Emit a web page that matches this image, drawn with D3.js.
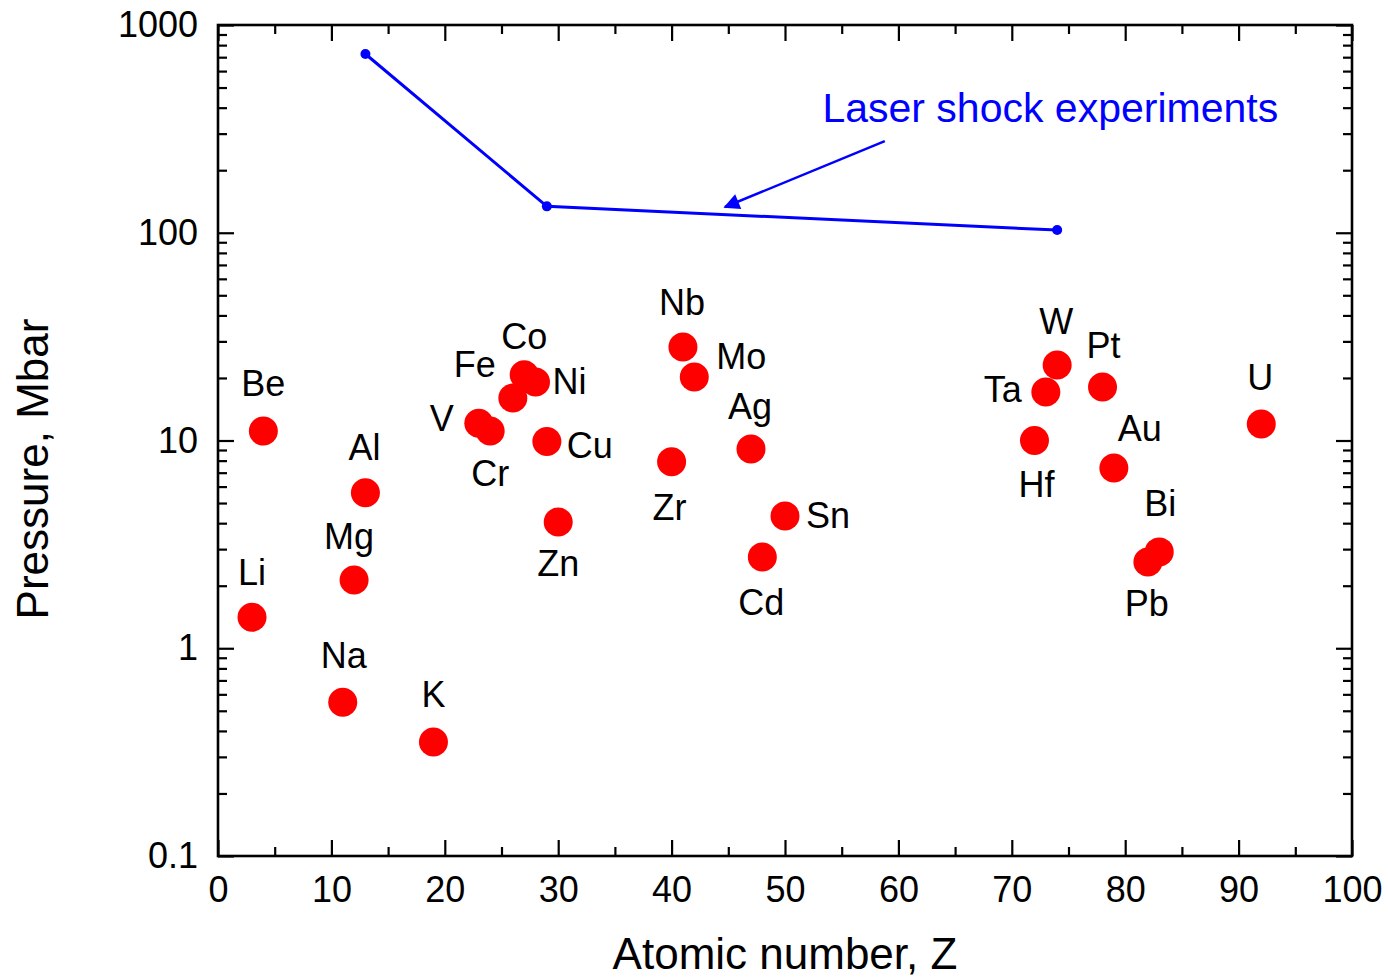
<!DOCTYPE html>
<html>
<head>
<meta charset="utf-8">
<script src="https://cdn.jsdelivr.net/npm/d3@7"></script>
<style>
  body { margin: 0; background: #fff; }
  svg { display: block; font-family: "Liberation Sans", Arial, sans-serif; }
</style>
</head>
<body>
<svg id="chart" width="1388" height="979"></svg>
<script>
// data
const elements = ["Li", "Be", "Na", "Mg", "Al", "K", "V", "Cr", "Fe", "Co", "Ni", "Cu", "Zn",
                  "Zr", "Nb", "Mo", "Ag", "Cd", "Sn", "Hf", "Ta", "W", "Pt", "Au", "Pb", "Bi", "U"];
const atomicNumbers = [3, 4, 11, 12, 13, 19, 23, 24, 26, 27, 28, 29, 30,
                       40, 41, 42, 47, 48, 50, 72, 73, 74, 78, 79, 82, 83, 92];
const pressures = [1.41, 11.1, 0.55, 2.13, 5.6, 0.354, 12.1, 11.1, 16.0, 20.7, 19.1, 9.9, 4.05,
                   7.9, 28.2, 20.2, 9.1, 2.75, 4.33, 10.0, 17.1, 23.1, 18.1, 7.37, 2.6, 2.91, 12.0];

const laserZ = [13, 29, 74];
const laserP = [725, 134, 103];
const laserLabel = "Laser shock experiments";

const xTickValues = [0, 10, 20, 30, 40, 50, 60, 70, 80, 90, 100];
const xTickLabels = ["0", "10", "20", "30", "40", "50", "60", "70", "80", "90", "100"];
const yTickValues = [0.1, 1, 10, 100, 1000];
const yTickLabels = ["0.1", "1", "10", "100", "1000"];

const xTitle = "Atomic number, Z";
const yTitle = "Pressure, Mbar";

// label placement around each point (pixels), same order as elements
const labelOffsets = [[0,-45],[0,-48],[1,-47],[-5,-44],[-1,-46],[0,-48],[-37,-5],[0,42],[-38,-34],
                      [0,-39],[34,-1],[43,4],[0,41],[-2,45],[-1,-45],[47,-21],[-1,-43],[-1,45],
                      [43,-1],[2,43],[-43,-3],[-1,-44],[1,-42],[26,-40],[-1,41],[1,-49],[-1,-47]];

const svg = d3.select("#chart");
const plotLeft = 218, plotRight = 1352, plotTop = 25, plotBottom = 856;

let x = d3.scaleLinear().domain([0, 100]).range([plotLeft, plotRight]);
let y = d3.scaleLog().domain([0.1, 1000]).range([plotBottom, plotTop]);

let minorX = d3.range(5, 100, 10);
let minorY = y.ticks().filter(v => yTickValues.indexOf(v) < 0);

function styleAxis(g) {
    g.select(".domain").remove();
    g.selectAll("line").attr("stroke", "#000").attr("stroke-width", 2.2);
    g.selectAll("text").attr("fill", "#000").attr("font-size", 36)
        .attr("font-family", "Liberation Sans, Arial, sans-serif");
}

//bottom axis
svg.append("g")
    .attr("transform", "translate(0," + plotBottom + ")")
    .call(d3.axisBottom(x).tickValues(xTickValues).tickSize(-16).tickPadding(20)
        .tickFormat((d, i) => xTickLabels[i]))
    .call(styleAxis);
svg.append("g")
    .attr("transform", "translate(0," + plotBottom + ")")
    .call(d3.axisBottom(x).tickValues(minorX).tickSize(-9).tickFormat(""))
    .call(styleAxis);

//top axis
svg.append("g")
    .attr("transform", "translate(0," + plotTop + ")")
    .call(d3.axisTop(x).tickValues(xTickValues).tickSize(-16).tickFormat(""))
    .call(styleAxis);
svg.append("g")
    .attr("transform", "translate(0," + plotTop + ")")
    .call(d3.axisTop(x).tickValues(minorX).tickSize(-9).tickFormat(""))
    .call(styleAxis);

//left axis
svg.append("g")
    .attr("transform", "translate(" + plotLeft + ",0)")
    .call(d3.axisLeft(y).tickValues(yTickValues).tickSize(-16).tickPadding(20)
        .tickFormat((d, i) => yTickLabels[i]))
    .call(styleAxis);
svg.append("g")
    .attr("transform", "translate(" + plotLeft + ",0)")
    .call(d3.axisLeft(y).tickValues(minorY).tickSize(-9).tickFormat(""))
    .call(styleAxis);

//right axis
svg.append("g")
    .attr("transform", "translate(" + plotRight + ",0)")
    .call(d3.axisRight(y).tickValues(yTickValues).tickSize(-16).tickFormat(""))
    .call(styleAxis);
svg.append("g")
    .attr("transform", "translate(" + plotRight + ",0)")
    .call(d3.axisRight(y).tickValues(minorY).tickSize(-9).tickFormat(""))
    .call(styleAxis);

//frame
svg.append("rect")
    .attr("x", plotLeft).attr("y", plotTop)
    .attr("width", plotRight - plotLeft).attr("height", plotBottom - plotTop)
    .attr("fill", "none").attr("stroke", "#000").attr("stroke-width", 2.6);

//axis titles
svg.append("text")
    .attr("x", (plotLeft + plotRight) / 2).attr("y", 969)
    .attr("text-anchor", "middle").attr("font-size", 44)
    .text(xTitle);
svg.append("text")
    .attr("transform", "translate(48," + 469 + ") rotate(-90)")
    .attr("text-anchor", "middle").attr("font-size", 44)
    .text(yTitle);

//laser shock line
let laserData = laserZ.map((z, i) => ({z: z, p: laserP[i]}));
let line = d3.line().x(d => x(d.z)).y(d => y(d.p));
svg.append("path")
    .datum(laserData)
    .attr("d", line)
    .attr("fill", "none").attr("stroke", "#0000ff").attr("stroke-width", 3);
svg.selectAll(".laserDot")
    .data(laserData)
    .enter().append("circle")
    .attr("class", "laserDot")
    .attr("cx", d => x(d.z)).attr("cy", d => y(d.p))
    .attr("r", 5).attr("fill", "#0000ff");

//arrow annotation
svg.append("defs").append("marker")
    .attr("id", "arrowhead")
    .attr("viewBox", "0 0 10 10")
    .attr("refX", 9).attr("refY", 5)
    .attr("markerUnits", "userSpaceOnUse")
    .attr("markerWidth", 24).attr("markerHeight", 16)
    .attr("orient", "auto")
    .append("path").attr("d", "M0,0 L10,5 L0,10 Z").attr("fill", "#0000ff");
svg.append("line")
    .attr("x1", x(58.8)).attr("y1", y(276))
    .attr("x2", x(44.7)).attr("y2", y(133))
    .attr("stroke", "#0000ff").attr("stroke-width", 2.5)
    .attr("marker-end", "url(#arrowhead)");
svg.append("text")
    .attr("x", x(53.3)).attr("y", y(341))
    .attr("fill", "#0000ff").attr("font-size", 41)
    .text(laserLabel);

//element points
let points = elements.map((e, i) => ({name: e, z: atomicNumbers[i], p: pressures[i], off: labelOffsets[i]}));
svg.selectAll(".pt")
    .data(points)
    .enter().append("circle")
    .attr("class", "pt")
    .attr("cx", d => x(d.z)).attr("cy", d => y(d.p))
    .attr("r", 14.5).attr("fill", "#ff0000");
svg.selectAll(".lbl")
    .data(points)
    .enter().append("text")
    .attr("class", "lbl")
    .attr("x", d => x(d.z) + d.off[0])
    .attr("y", d => y(d.p) + d.off[1] + 13)
    .attr("text-anchor", "middle").attr("font-size", 36)
    .text(d => d.name);
</script>
</body>
</html>
